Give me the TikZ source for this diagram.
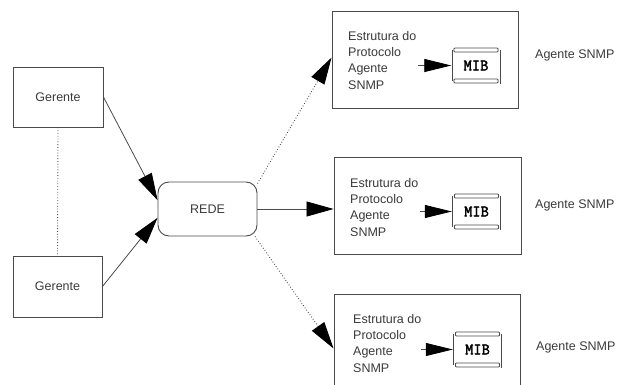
\documentclass[tikz,border=0pt]{standalone}
\usepackage{fontspec}
\setmainfont{Liberation Sans}
\newfontfamily\mibfont{Latin Modern Mono}[FakeBold=2]
\usetikzlibrary{arrows.meta,calc}
\definecolor{ink}{HTML}{3A3A3A}
\definecolor{edge}{HTML}{4A4A4A}
\tikzset{
  txt/.style={font=\fontsize{12.5}{16.3}\selectfont, text=ink, inner sep=0pt},
  box/.style={draw=edge, line width=0.9pt, fill=white},
  mibbox/.style={inner sep=0pt, minimum width=49pt, minimum height=35pt,
                 font=\mibfont\fontsize{16}{16}\selectfont, text=black},
  link/.style={draw=edge, line width=0.8pt},
  bighead/.style={-{Triangle[length=27pt,width=15pt,color=black]}},
  mibhead/.style={-{Triangle[length=27pt,width=13pt,color=black]}},
  dots/.style={dotted, line width=0.9pt},
}
\begin{document}
\begin{tikzpicture}[x=1pt,y=-1pt]
\useasboundingbox (0,0) rectangle (621,385);
\clip (0,0) rectangle (621,385);

% managers
\node[box, txt, minimum width=90pt, minimum height=60pt] (g1) at (58,97) {Gerente};
\node[box, txt, minimum width=89pt, minimum height=61pt] (g2) at (57.5,286.5) {Gerente};
\draw[link, dots] (g1.south) -- (g2.north);

% network
\node[box, txt, rounded corners=11pt, minimum width=99pt, minimum height=54pt] (rede) at (207.5,209) {REDE};

% agent boxes
\node[box, minimum width=186pt, minimum height=97pt] (a1) at (425,59.5) {};
\node[box, minimum width=187pt, minimum height=97pt] (a2) at (427.5,205.5) {};
\node[box, minimum width=186pt, minimum height=97pt] (a3) at (427,342.5) {};

% protocol structure texts
\node[txt, align=left, anchor=north west] (t1) at (348,31) {Estrutura do\\Protocolo\\Agente\\SNMP};
\node[txt, align=left, anchor=north west] (t2) at (350,178) {Estrutura do\\Protocolo\\Agente\\SNMP};
\node[txt, align=left, anchor=north west] (t3) at (353,314) {Estrutura do\\Protocolo\\Agente\\SNMP};

% MIB scrolls
\node[mibbox] (m1) at (476,65.5) {MIB};
\node[mibbox] (m2) at (476.5,211.5) {MIB};
\node[mibbox] (m3) at (477.5,349.5) {MIB};
\foreach \m in {m1,m2,m3}{
  \begin{scope}[shift={(\m.center)}, draw=edge, line width=0.8pt]
    \draw (-21,-17.5) -- (21,-17.5) to[out=0,in=0] (21,-13.5) -- (-21,-13.5) to[out=180,in=180] cycle;
    \draw (-21,13.5) -- (21,13.5) to[out=0,in=0] (21,17.5) -- (-21,17.5) to[out=180,in=180] cycle;
    \draw (-24,-15.5) -- (-24,15.5);
    \draw (24,-15.5) -- (24,18.5);
  \end{scope}
}

% agent labels
\node[txt, anchor=west] (l1) at (535,55) {Agente SNMP};
\node[txt, anchor=west] (l2) at (535,205) {Agente SNMP};
\node[txt, anchor=west] (l3) at (536,347) {Agente SNMP};

% connectors
\draw[link, bighead] (g1.east) -- (rede.170);
\draw[link, bighead] (g2.east) -- (rede.190);
\draw[link, bighead] (rede.east) -- (rede.east -| a2.west);
\draw[link, dots, bighead] (rede.27) -- ([yshift=2pt]a1.west);
\draw[link, dots, bighead] (rede.-30) -- ([yshift=-6pt]a3.west);

\coordinate (s1) at (418,65.5);
\coordinate (s2) at (420,211.5);
\coordinate (s3) at (421,349.5);
\draw[link, mibhead] (s1) -- (m1.west);
\draw[link, mibhead] (s2) -- (m2.west);
\draw[link, mibhead] (s3) -- (m3.west);
\end{tikzpicture}
\end{document}
